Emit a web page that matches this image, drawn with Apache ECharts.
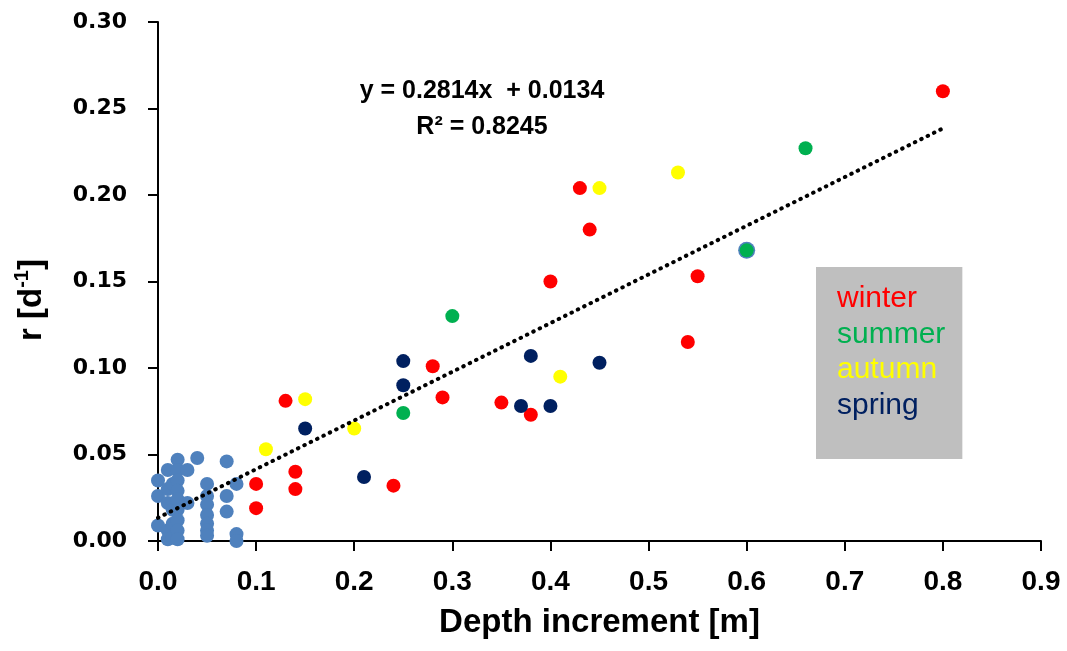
<!DOCTYPE html>
<html>
<head>
<meta charset="utf-8">
<script src="https://cdn.jsdelivr.net/npm/echarts@6/dist/echarts.min.js"></script>
<style>html,body{margin:0;padding:0;background:#fff}#c{width:1067px;height:651px}</style>
</head>
<body>
<div id="c"></div>
<script>
// ---- data ----
var xTicks = [0, 0.1, 0.2, 0.3, 0.4, 0.5, 0.6, 0.7, 0.8, 0.9];
var yTicks = [0, 0.05, 0.10, 0.15, 0.20, 0.25, 0.30];

var allPoints = [
  [0.00,0.035],[0.00,0.026],[0.00,0.009],
  [0.01,0.041],[0.01,0.030],[0.01,0.022],[0.01,0.006],[0.01,0.001],
  [0.015,0.033],[0.015,0.018],[0.015,0.010],[0.015,0.002],
  [0.02,0.047],[0.02,0.041],[0.02,0.035],[0.02,0.029],[0.02,0.024],[0.02,0.018],[0.02,0.012],[0.02,0.006],[0.02,0.001],
  [0.03,0.041],[0.03,0.022],
  [0.04,0.048],
  [0.05,0.033],[0.05,0.026],[0.05,0.021],[0.05,0.015],[0.05,0.010],[0.05,0.006],[0.05,0.003],
  [0.07,0.046],[0.07,0.026],[0.07,0.017],
  [0.08,0.033],[0.08,0.004],[0.08,0.000]
];
var sharedPoints = [[0.60,0.168]];

var winter = [
  [0.10,0.033],[0.10,0.019],[0.13,0.081],[0.14,0.040],[0.14,0.030],[0.24,0.032],
  [0.28,0.101],[0.29,0.083],[0.35,0.080],[0.38,0.073],[0.40,0.150],[0.43,0.204],
  [0.44,0.180],[0.54,0.115],[0.55,0.153],[0.80,0.260]
];
var summer = [[0.25,0.074],[0.30,0.130],[0.60,0.168],[0.66,0.227]];
var autumn = [[0.11,0.053],[0.15,0.082],[0.20,0.065],[0.41,0.095],[0.45,0.204],[0.53,0.213]];
var spring = [
  [0.15,0.065],[0.21,0.037],[0.25,0.104],[0.25,0.090],[0.37,0.078],[0.38,0.107],
  [0.40,0.078],[0.45,0.103]
];

var trendSlope = 0.2814;
var trendIntercept = 0.0134;
var trendX = [0.0, 0.80];
var eqText1 = 'y = 0.2814x  + 0.0134';
var eqText2 = 'R\u00B2 = 0.8245';
var seasonNames = ['winter', 'summer', 'autumn', 'spring'];
var seasonColors = ['#FF0000', '#00B050', '#FFFF00', '#002060'];

// ---- chart ----
var trendData = trendX.map(function (x) { return [x, trendSlope * x + trendIntercept]; });
var chart = echarts.init(document.getElementById('c'), null, {renderer: 'canvas'});
var seasonData = [winter, summer, autumn, spring];

var series = [
  {name: 'all', type: 'scatter', data: allPoints, symbolSize: 14, itemStyle: {color: '#4F81BD', opacity: 1}},
  {name: 'shared', type: 'scatter', data: sharedPoints, symbolSize: 17, itemStyle: {color: '#4F81BD', opacity: 1}}
];
seasonNames.forEach(function (n, i) {
  series.push({name: n, type: 'scatter', data: seasonData[i], symbolSize: 14,
    itemStyle: {color: seasonColors[i], opacity: 1}});
});
series.push({
  name: 'trend', type: 'line', data: trendData, symbol: 'none', z: 5, silent: true,
  lineStyle: {color: '#000', width: 4, type: [0.5, 6.6], cap: 'round'}
});

chart.setOption({
  animation: false,
  backgroundColor: '#fff',
  grid: {left: 158, right: 26, top: 22, bottom: 110, containLabel: false},
  xAxis: {
    type: 'value', min: 0, max: 0.9, interval: 0.1,
    name: 'Depth increment [m]', nameLocation: 'middle', nameGap: 65,
    nameTextStyle: {fontFamily: 'Liberation Sans', fontWeight: 'bold', fontSize: 33, color: '#000'},
    axisLine: {show: true, lineStyle: {color: '#000', width: 2}},
    axisTick: {show: true, length: 10, lineStyle: {color: '#000', width: 2}},
    splitLine: {show: false},
    axisLabel: {margin: 27, fontFamily: 'Liberation Sans', fontWeight: 'bold', fontSize: 28, color: '#000',
      formatter: function (v) { return v.toFixed(1); }}
  },
  yAxis: {
    type: 'value', min: 0, max: 0.3, interval: 0.05,
    axisLine: {show: true, lineStyle: {color: '#000', width: 2}},
    axisTick: {show: true, length: 10, lineStyle: {color: '#000', width: 2}},
    splitLine: {show: false},
    axisLabel: {margin: 31, fontFamily: 'DejaVu Sans', fontWeight: 'bold', fontSize: 22, color: '#000',
      formatter: function (v) { return v.toFixed(2); }}
  },
  legend: {
    data: seasonNames.map(function (n, i) { return {name: n, textStyle: {color: seasonColors[i]}}; }),
    orient: 'vertical', left: 816, top: 267,
    itemWidth: 0, itemHeight: 0, itemGap: 0, icon: 'circle',
    backgroundColor: '#BFBFBF', borderWidth: 0,
    padding: [14, 17, 36, 16],
    selectedMode: false,
    textStyle: {fontFamily: 'Liberation Sans', fontSize: 30, lineHeight: 35.5}
  },
  graphic: [
    {type: 'text', x: 482, y: 91, z: 10, style: {text: eqText1, align: 'center', verticalAlign: 'middle',
      font: 'bold 25px "Liberation Sans"', fill: '#000'}},
    {type: 'text', x: 482, y: 127, z: 10, style: {text: eqText2, align: 'center', verticalAlign: 'middle',
      font: 'bold 25px "Liberation Sans"', fill: '#000'}},
    {type: 'text', x: 32, y: 300, rotation: Math.PI / 2, z: 10, style: {
      text: '{b|r [d}{s|-1}{b|]}', align: 'center', verticalAlign: 'middle',
      rich: {
        b: {fontFamily: 'Liberation Sans', fontWeight: 'bold', fontSize: 33, fill: '#000'},
        s: {fontFamily: 'Liberation Sans', fontWeight: 'bold', fontSize: 20, fill: '#000', padding: [0, 0, 20, 0]}
      }}}
  ],
  series: series
});
</script>
</body>
</html>
